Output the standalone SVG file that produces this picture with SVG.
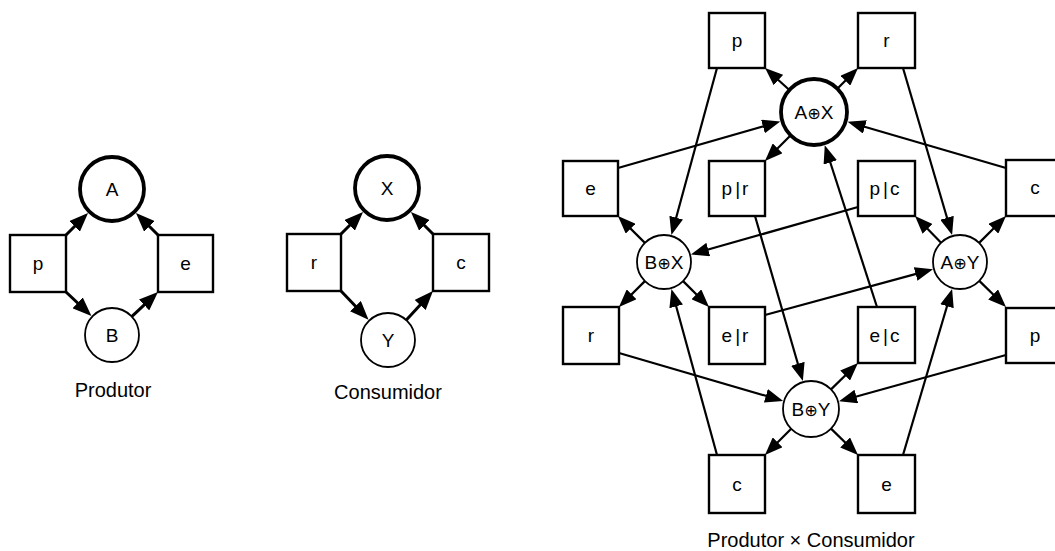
<svg xmlns="http://www.w3.org/2000/svg" width="1055" height="551" viewBox="0 0 1055 551">
<style>
.box{fill:#fff;stroke:#000;stroke-width:2.4}
.thick{fill:#fff;stroke:#000;stroke-width:3.8}
.thin{fill:#fff;stroke:#000;stroke-width:1.8}
.lbl{font-family:"Liberation Sans",Arial,sans-serif;font-size:19px;text-anchor:middle;fill:#000}
.cap{font-family:"Liberation Sans",Arial,sans-serif;font-size:20px;text-anchor:middle;fill:#000}
.op{font-family:"DejaVu Sans",sans-serif;font-size:16px}
.e2{stroke:#000;stroke-width:2.2;fill:none;marker-end:url(#ah)}
.e3{stroke:#000;stroke-width:3;fill:none;marker-end:url(#ahb)}
</style>
<defs>
<marker id="ah" viewBox="0 0 18 14" refX="12" refY="7" markerWidth="18" markerHeight="14" orient="auto" markerUnits="userSpaceOnUse">
<path d="M0,0 L18,7 L0,14 z" fill="#000"/>
</marker>
<marker id="ahb" viewBox="0 0 19 15" refX="13" refY="7.5" markerWidth="19" markerHeight="15" orient="auto" markerUnits="userSpaceOnUse">
<path d="M0,0 L19,7.5 L0,15 z" fill="#000"/>
</marker>
</defs>
<rect width="1055" height="551" fill="#fff"/>

<!-- Produtor -->
<g id="P_A"><circle class="thick" cx="112" cy="189" r="32"/><text class="lbl" x="112" y="196">A</text></g>
<g id="P_B"><circle class="thin" cx="112" cy="335" r="27"/><text class="lbl" x="112" y="342">B</text></g>
<g id="P_p"><rect class="box" x="10" y="235" width="56" height="57"/><text class="lbl" x="38" y="270">p</text></g>
<g id="P_e"><rect class="box" x="158" y="235" width="55" height="57"/><text class="lbl" x="185.5" y="270">e</text></g>
<text class="cap" x="113" y="397">Produtor</text>

<!-- Consumidor -->
<g id="C_X"><circle class="thick" cx="387" cy="188" r="32"/><text class="lbl" x="387" y="195">X</text></g>
<g id="C_Y"><circle class="thin" cx="388" cy="340" r="27"/><text class="lbl" x="388" y="347">Y</text></g>
<g id="C_r"><rect class="box" x="287" y="234" width="54" height="57"/><text class="lbl" x="314" y="269">r</text></g>
<g id="C_c"><rect class="box" x="433" y="234" width="56" height="57"/><text class="lbl" x="461" y="269">c</text></g>
<text class="cap" x="388" y="399">Consumidor</text>

<!-- Produtor x Consumidor -->
<g id="AX"><circle class="thick" cx="814" cy="112" r="33"/><text class="lbl" x="814" y="119">A<tspan class="op">⊕</tspan>X</text></g>
<g id="BX"><circle class="thin" cx="664" cy="262" r="27"/><text class="lbl" x="664" y="269">B<tspan class="op">⊕</tspan>X</text></g>
<g id="AY"><circle class="thin" cx="960" cy="262" r="27"/><text class="lbl" x="960" y="269">A<tspan class="op">⊕</tspan>Y</text></g>
<g id="BY"><circle class="thin" cx="811" cy="409" r="28"/><text class="lbl" x="811" y="416">B<tspan class="op">⊕</tspan>Y</text></g>

<g id="t_p_top"><rect class="box" x="709" y="13" width="56" height="55"/><text class="lbl" x="737" y="47">p</text></g>
<g id="t_r_top"><rect class="box" x="858" y="13" width="57" height="55"/><text class="lbl" x="886.5" y="47">r</text></g>
<g id="t_e_left"><rect class="box" x="563" y="161" width="55" height="55"/><text class="lbl" x="590.5" y="195">e</text></g>
<g id="t_pr"><rect class="box" x="709" y="161" width="56" height="55"/><text class="lbl" x="735" y="195">p<tspan dx="3">|</tspan><tspan dx="2">r</tspan></text></g>
<g id="t_pc"><rect class="box" x="858" y="161" width="57" height="55"/><text class="lbl" x="884.5" y="195">p<tspan dx="3">|</tspan><tspan dx="2">c</tspan></text></g>
<g id="t_c_right"><rect class="box" x="1006" y="160" width="57" height="56"/><text class="lbl" x="1035" y="194">c</text></g>
<g id="t_r_left"><rect class="box" x="563" y="307" width="56" height="57"/><text class="lbl" x="591" y="342">r</text></g>
<g id="t_er"><rect class="box" x="709" y="307" width="56" height="57"/><text class="lbl" x="735" y="342">e<tspan dx="3">|</tspan><tspan dx="2">r</tspan></text></g>
<g id="t_ec"><rect class="box" x="858" y="307" width="57" height="56"/><text class="lbl" x="884.5" y="342">e<tspan dx="3">|</tspan><tspan dx="2">c</tspan></text></g>
<g id="t_p_right"><rect class="box" x="1006" y="308" width="57" height="55"/><text class="lbl" x="1035" y="342">p</text></g>
<g id="t_c_bottom"><rect class="box" x="709" y="455" width="56" height="58"/><text class="lbl" x="737" y="491">c</text></g>
<g id="t_e_bottom"><rect class="box" x="858" y="455" width="57" height="58"/><text class="lbl" x="886.5" y="491">e</text></g>
<text class="cap" x="811" y="547">Produtor × Consumidor</text>

<g id="connectors">
<!-- Produtor -->
<line class="e3" x1="66" y1="235" x2="83.8" y2="217.2"/>
<line class="e3" x1="66" y1="292" x2="87.1" y2="311.8"/>
<line class="e3" x1="131.7" y1="316.6" x2="153.6" y2="296.1"/>
<line class="e3" x1="158" y1="235" x2="140.2" y2="217.2"/>
<!-- Consumidor -->
<line class="e3" x1="341" y1="234" x2="358.8" y2="216.2"/>
<line class="e3" x1="341" y1="291" x2="364.4" y2="315.5"/>
<line class="e3" x1="406.3" y1="320.1" x2="428.9" y2="295.4"/>
<line class="e3" x1="433" y1="234" x2="415.2" y2="216.2"/>
<!-- Produto -->
<line class="e2" x1="789.4" y1="90" x2="769.5" y2="72"/>
<line class="e2" x1="717" y1="68" x2="673" y2="229.2"/>
<line class="e2" x1="618" y1="168" x2="774.5" y2="123.2"/>
<line class="e2" x1="790.7" y1="135.3" x2="769.2" y2="156.8"/>
<line class="e2" x1="644.9" y1="242.9" x2="622.2" y2="220.2"/>
<line class="e2" x1="858" y1="207" x2="696.7" y2="252.8"/>
<line class="e2" x1="755" y1="216" x2="801.2" y2="375.3"/>
<line class="e2" x1="837.3" y1="88.7" x2="853.8" y2="72.2"/>
<line class="e2" x1="903" y1="68" x2="950.4" y2="229.3"/>
<line class="e2" x1="1006" y1="168" x2="853.4" y2="123.5"/>
<line class="e2" x1="941.1" y1="242.7" x2="919.2" y2="220.3"/>
<line class="e2" x1="979.1" y1="242.9" x2="1001.8" y2="220.2"/>
<line class="e2" x1="877" y1="307" x2="826.6" y2="151"/>
<line class="e2" x1="644.9" y1="281.1" x2="623.2" y2="302.8"/>
<line class="e2" x1="683.1" y1="281.1" x2="704.8" y2="302.8"/>
<line class="e2" x1="717" y1="455" x2="673" y2="294.8"/>
<line class="e2" x1="619" y1="353" x2="777.4" y2="399.2"/>
<line class="e2" x1="765" y1="315" x2="927.2" y2="270.9"/>
<line class="e2" x1="791.2" y1="428.8" x2="769.2" y2="450.8"/>
<line class="e2" x1="979.3" y1="280.9" x2="1001.7" y2="302.8"/>
<line class="e2" x1="831" y1="389.4" x2="853.7" y2="367.2"/>
<line class="e2" x1="1006" y1="355" x2="844.8" y2="399.7"/>
<line class="e2" x1="831" y1="428.6" x2="853.7" y2="450.8"/>
<line class="e2" x1="903" y1="455" x2="950.4" y2="294.7"/>
</g>
</svg>
